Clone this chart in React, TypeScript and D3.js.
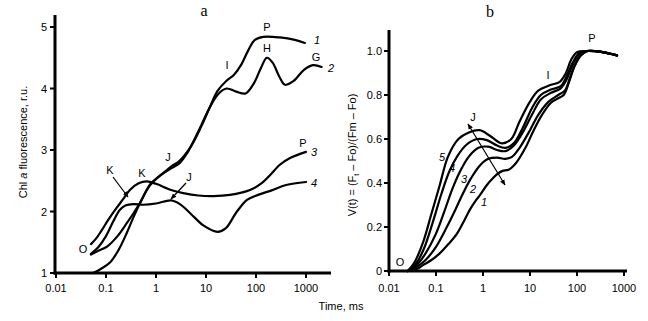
import React from "react";
import * as d3 from "d3";

// ---------- Data ----------
const timeTicks = [0.01, 0.1, 1, 10, 100, 1000];
const timeTickLabels = ["0.01", "0.1", "1", "10", "100", "1000"];
const fTicks = [1, 2, 3, 4, 5];
const vTicks = [0, 0.2, 0.4, 0.6, 0.8, 1.0];
const vTickLabels = ["0", "0.2", "0.4", "0.6", "0.8", "1.0"];

// Panel a: [time ms, Chl a fluorescence r.u.]
const fCurve1: [number, number][] = [
  [0.05, 1.3], [0.07, 1.36], [0.105, 1.43], [0.17, 1.6], [0.26, 1.81], [0.36, 1.98], [0.48, 2.14], [0.76, 2.44],
  [1.2, 2.58], [2, 2.73], [3, 2.83], [5, 3.06], [8, 3.38], [12, 3.7], [17, 3.96], [26, 4.13], [36, 4.22],
  [50, 4.38], [70, 4.62], [95, 4.79], [140, 4.84], [300, 4.83], [600, 4.79], [950, 4.74],
];
const fCurve2: [number, number][] = [
  [0.055, 1.0], [0.08, 1.07], [0.12, 1.17], [0.18, 1.38], [0.26, 1.65], [0.36, 1.92], [0.48, 2.14], [0.75, 2.42],
  [1.1, 2.56], [2, 2.7], [3, 2.79], [4.2, 2.95], [7, 3.3], [12, 3.7], [18, 3.92], [26, 4.0], [40, 3.95],
  [62, 3.92], [90, 4.08], [125, 4.33], [165, 4.5], [215, 4.42], [290, 4.2], [380, 4.06], [560, 4.12],
  [900, 4.3], [1380, 4.38], [2050, 4.35],
];
const fCurve3: [number, number][] = [
  [0.05, 1.47], [0.062, 1.55], [0.08, 1.68], [0.11, 1.86], [0.16, 2.05], [0.22, 2.2], [0.3, 2.35], [0.45, 2.46],
  [0.66, 2.49], [1, 2.45], [2, 2.35], [3.5, 2.3], [7, 2.26], [14, 2.25], [30, 2.27], [76, 2.35], [130, 2.46],
  [190, 2.59], [300, 2.76], [480, 2.87], [1000, 2.97],
];
const fCurve4: [number, number][] = [
  [0.05, 1.31], [0.07, 1.42], [0.1, 1.6], [0.14, 1.84], [0.19, 2.03], [0.25, 2.1], [0.35, 2.12], [0.55, 2.11],
  [1, 2.13], [2, 2.18], [3, 2.12], [5, 1.96], [9, 1.77], [17, 1.67], [25, 1.73], [40, 1.98], [66, 2.19],
  [110, 2.27], [200, 2.34], [400, 2.43], [1000, 2.48],
];

// Panel b: [time ms, relative variable fluorescence V(t)]
const vCurve1: [number, number][] = [
  [0.025, 0], [0.04, 0.01], [0.053, 0.027], [0.08, 0.05], [0.12, 0.08], [0.18, 0.12], [0.28, 0.17], [0.4, 0.23],
  [0.53, 0.28], [0.7, 0.32], [0.86, 0.345], [1.2, 0.39], [1.6, 0.42], [2, 0.44], [2.6, 0.455], [3.5, 0.46],
  [5, 0.49], [8, 0.56], [12, 0.64], [18, 0.71], [28, 0.765], [40, 0.785], [52, 0.8], [68, 0.86], [88, 0.93],
  [120, 0.98], [170, 1.0], [350, 0.995], [710, 0.98],
];
const vCurve2: [number, number][] = [
  [0.025, 0], [0.04, 0.02], [0.06, 0.05], [0.1, 0.11], [0.17, 0.2], [0.26, 0.28], [0.37, 0.35], [0.55, 0.42],
  [0.86, 0.48], [1.3, 0.51], [2, 0.515], [3, 0.51], [4.2, 0.52], [6, 0.56], [10, 0.64], [15, 0.71], [25, 0.77],
  [40, 0.8], [55, 0.82], [70, 0.875], [90, 0.935], [120, 0.98], [170, 1.0], [350, 0.995], [710, 0.98],
];
const vCurve3: [number, number][] = [
  [0.025, 0], [0.04, 0.03], [0.06, 0.08], [0.1, 0.17], [0.15, 0.27], [0.22, 0.37], [0.32, 0.45], [0.5, 0.52],
  [0.8, 0.56], [1.3, 0.565], [2, 0.55], [3, 0.545], [4.5, 0.57], [7, 0.63], [11, 0.71], [17, 0.78], [28, 0.81],
  [45, 0.83], [60, 0.87], [80, 0.935], [110, 0.985], [160, 1.0], [350, 0.995], [710, 0.98],
];
const vCurve4: [number, number][] = [
  [0.025, 0], [0.038, 0.035], [0.055, 0.1], [0.085, 0.22], [0.13, 0.35], [0.19, 0.45], [0.28, 0.52], [0.45, 0.575],
  [0.75, 0.6], [1.2, 0.595], [2, 0.57], [3, 0.56], [4.5, 0.58], [7, 0.65], [11, 0.74], [17, 0.8], [28, 0.825],
  [45, 0.84], [60, 0.885], [80, 0.945], [110, 0.99], [160, 1.0], [350, 0.995], [710, 0.98],
];
const vCurve5: [number, number][] = [
  [0.025, 0], [0.035, 0.04], [0.053, 0.13], [0.08, 0.26], [0.12, 0.39], [0.18, 0.52], [0.3, 0.6], [0.5, 0.63],
  [0.85, 0.64], [1.4, 0.615], [2.5, 0.58], [4, 0.6], [6, 0.68], [10, 0.77], [15, 0.82], [27, 0.845], [43, 0.86],
  [58, 0.9], [75, 0.96], [100, 0.995], [160, 1.0], [350, 0.995], [710, 0.98],
];

const fCurves = [fCurve1, fCurve2, fCurve3, fCurve4];
const vCurves = [vCurve1, vCurve2, vCurve3, vCurve4, vCurve5];

const SANS = "Liberation Sans, Arial, sans-serif";
const SERIF = "Liberation Serif, Times New Roman, serif";

export default function App() {
  // Panel a scales
  const xa = d3.scaleLog().domain([0.01, 1000]).range([56, 306]);
  const ya = d3.scaleLinear().domain([1, 5]).range([273, 27]);
  // Panel b scales
  const xb = d3.scaleLog().domain([0.01, 1000]).range([389, 624]);
  const yb = d3.scaleLinear().domain([0, 1]).range([271, 51]);

  const lineA = d3
    .line<[number, number]>()
    .x((d) => xa(d[0]))
    .y((d) => ya(d[1]))
    .curve(d3.curveCatmullRom.alpha(0.5));
  const lineB = d3
    .line<[number, number]>()
    .x((d) => xb(d[0]))
    .y((d) => yb(d[1]))
    .curve(d3.curveCatmullRom.alpha(0.5));

  const stroke = "#000";
  const lw = 2.2;

  const lbl = (x: number, y: number, t: string, italic = false, size = 11) => (
    <text x={x} y={y} fontFamily={SANS} fontSize={size} fontStyle={italic ? "italic" : "normal"} textAnchor="middle">
      {t}
    </text>
  );

  return (
    <svg width={648} height={321} style={{ position: "absolute", left: 0, top: 0, background: "#fff" }}>
      <defs>
        <marker id="ah" viewBox="0 0 10 10" refX="9" refY="5" markerWidth="6" markerHeight="6" orient="auto-start-reverse" markerUnits="userSpaceOnUse">
          <path d="M0,1 L10,5 L0,9 z" fill="#000" />
        </marker>
      </defs>
      <rect x={0} y={0} width={648} height={321} fill="#fff" />

      {/* Titles */}
      <text x={204} y={16} fontFamily={SERIF} fontSize={16} textAnchor="middle">a</text>
      <text x={490} y={17} fontFamily={SERIF} fontSize={16} textAnchor="middle">b</text>

      {/* ---------- Panel a axes ---------- */}
      <line x1={55} y1={15} x2={55} y2={274.5} stroke={stroke} strokeWidth={3} />
      <line x1={53.5} y1={273} x2={331} y2={273} stroke={stroke} strokeWidth={3} />
      {fTicks.map((t) => (
        <g key={"fa" + t}>
          <line x1={50} x2={55} y1={ya(t)} y2={ya(t)} stroke={stroke} strokeWidth={2} />
          <text x={47} y={ya(t) + 4} fontFamily={SANS} fontSize={11} textAnchor="end">{t}</text>
        </g>
      ))}
      {timeTicks.map((t, i) => (
        <g key={"ta" + t}>
          <line x1={xa(t)} x2={xa(t)} y1={273} y2={278} stroke={stroke} strokeWidth={2} />
          <text x={xa(t)} y={292} fontFamily={SANS} fontSize={11} textAnchor="middle">{timeTickLabels[i]}</text>
        </g>
      ))}
      <text transform="translate(27,142) rotate(-90)" fontFamily={SANS} fontSize={11} textAnchor="middle">
        Chl <tspan fontStyle="italic">a</tspan> fluorescence, r.u.
      </text>

      {fCurves.map((c, i) => (
        <path key={"fc" + i} d={lineA(c) || ""} fill="none" stroke={stroke} strokeWidth={lw} strokeLinecap="round" />
      ))}

      {/* Panel a annotations */}
      {lbl(83, 253, "O")}
      {lbl(110, 174, "K")}
      {lbl(142, 177, "K")}
      {lbl(168, 161, "J")}
      {lbl(189, 181, "J")}
      {lbl(227, 69, "I")}
      {lbl(267, 31, "P")}
      {lbl(267, 52, "H")}
      {lbl(316, 61, "G")}
      {lbl(303, 147, "P")}
      {lbl(317, 44, "1", true)}
      {lbl(331, 72, "2", true)}
      {lbl(314, 156, "3", true)}
      {lbl(314, 187, "4", true)}
      <line x1={113} y1={177} x2={128} y2={197} stroke="#000" strokeWidth={1.2} markerEnd="url(#ah)" />
      <line x1={186} y1={183} x2={171} y2={199} stroke="#000" strokeWidth={1.2} markerEnd="url(#ah)" />

      {/* ---------- Panel b axes ---------- */}
      <line x1={389} y1={30} x2={389} y2={272.5} stroke={stroke} strokeWidth={3} />
      <line x1={387.5} y1={271} x2={627} y2={271} stroke={stroke} strokeWidth={3} />
      {vTicks.map((t, i) => (
        <g key={"vb" + t}>
          <line x1={384} x2={389} y1={yb(t)} y2={yb(t)} stroke={stroke} strokeWidth={2} />
          <text x={382} y={yb(t) + 4} fontFamily={SANS} fontSize={11} textAnchor="end">{vTickLabels[i]}</text>
        </g>
      ))}
      {timeTicks.map((t, i) => (
        <g key={"tb" + t}>
          <line x1={xb(t)} x2={xb(t)} y1={271} y2={276} stroke={stroke} strokeWidth={2} />
          <text x={xb(t)} y={292} fontFamily={SANS} fontSize={11} textAnchor="middle">{timeTickLabels[i]}</text>
        </g>
      ))}
      <text transform="translate(356,155) rotate(-90)" fontFamily={SANS} fontSize={11} textAnchor="middle">
        V(t) = (F<tspan fontSize={7} dy={3}>t</tspan><tspan dy={-3}> – Fo)/(Fm – Fo)</tspan>
      </text>

      {vCurves.map((c, i) => (
        <path key={"vc" + i} d={lineB(c) || ""} fill="none" stroke={stroke} strokeWidth={lw} strokeLinecap="round" />
      ))}

      {/* Panel b annotations */}
      {lbl(400, 266, "O")}
      {lbl(473, 121, "J")}
      {lbl(548, 79, "I")}
      {lbl(592, 42, "P")}
      {lbl(442, 161, "5", true)}
      {lbl(452, 172, "4", true)}
      {lbl(464, 183, "3", true)}
      {lbl(473, 193, "2", true)}
      {lbl(484, 206, "1", true)}
      <line x1={505} y1={185} x2={468} y2={124} stroke="#000" strokeWidth={1.2} markerStart="url(#ah)" markerEnd="url(#ah)" />

      {/* Shared x label */}
      <text x={341} y={310} fontFamily={SANS} fontSize={11} textAnchor="middle">Time, ms</text>
    </svg>
  );
}
